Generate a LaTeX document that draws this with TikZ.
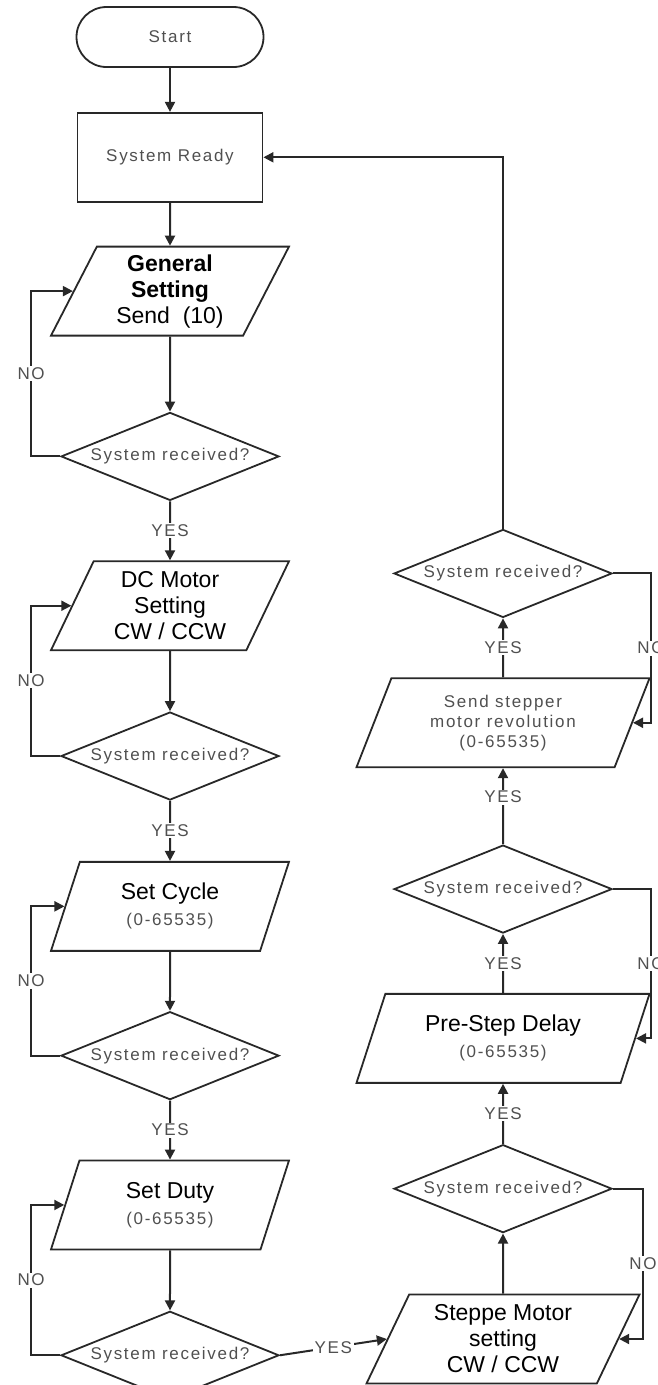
\documentclass[tikz,border=0pt]{standalone}
\usepackage{fontspec}
\setmainfont{Liberation Sans}
\newfontfamily\spacedfont[LetterSpace=10]{Liberation Sans}
\usetikzlibrary{shapes.geometric, arrows.meta, positioning}
\definecolor{linegray}{RGB}{40,40,40}
\definecolor{textgray}{RGB}{80,80,80}
\newcommand{\smalltxt}{\spacedfont\fontsize{17}{20}\selectfont}
\newcommand{\bigtxt}{\fontsize{23}{26}\selectfont}
\tikzset{
  base/.style={
    draw=linegray, line width=1.8pt,
    align=center, inner sep=0pt
  },
  terminal/.style={base, rectangle, rounded corners=30pt,
    minimum width=187pt, minimum height=60pt, font=\smalltxt, text=textgray},
  process/.style ={base, rectangle,
    minimum width=185pt, minimum height=89pt, font=\smalltxt, text=textgray},
  io/.style      ={base, trapezium, trapezium left angle=58, trapezium right angle=122,
    trapezium stretches body, minimum width=238pt, minimum height=89pt, font=\bigtxt},
  decision/.style={base, diamond, aspect=2.5,
    minimum width=218pt, minimum height=88pt, font=\smalltxt, text=textgray},
  arrow/.style={-{Triangle[length=10pt, width=10pt]}, line width=2pt, draw=linegray},
  answer/.style={fill=white, inner sep=1.5pt, font=\smalltxt, text=textgray},
}

\begin{document}
\begin{tikzpicture}[x=1pt, y=1pt]

  \useasboundingbox (0,0) rectangle (657,-1385);

  % Left column
  \node[terminal] (start) at (170,-37) {Start};
  \node[process,  below=44pt of start] (ready) {System Ready};

  \node[io,       below=43pt of ready] (gen)  {\textbf{General}\\\textbf{Setting}\\Send~~(10)};
  \node[decision, below=75pt of gen]   (d1)   {System received?};

  \node[io,       below=59pt of d1]    (dc)   {DC Motor\\Setting\\CW / CCW};
  \node[decision, below=60pt of dc]    (d2)   {System received?};

  \node[io,       below=60pt of d2]    (cyc)  {Set Cycle\\{\smalltxt\color{textgray}(0-65535)}};
  \node[decision, below=59pt of cyc]   (d3)   {System received?};

  \node[io,       below=59pt of d3]    (duty) {Set Duty\\{\smalltxt\color{textgray}(0-65535)}};
  \node[decision, below=60pt of duty]  (d4)   {System received?};

  % Right column
  \node[io, minimum width=273pt] (steppe) at (503,-1339) {Steppe Motor\\setting\\CW / CCW};
  \node[decision, above=60pt of steppe] (r1)  {System received?};

  \node[io, minimum width=293pt, above=60pt of r1] (pre) {Pre-Step Delay\\{\smalltxt\color{textgray}(0-65535)}};
  \node[decision, above=59pt of pre]    (r2)  {System received?};

  \node[io, minimum width=293pt, above=76pt of r2, font=\smalltxt, text=textgray] (send)
    {Send stepper\\motor revolution\\(0-65535)};
  \node[decision, above=59pt of send]   (r3)  {System received?};

  % Arrows
  \foreach \a/\b in {start/ready, ready/gen, gen/d1, dc/d2, cyc/d3, duty/d4, steppe/r1}{
    \draw[arrow] (\a) -- (\b);
  }
  \foreach \a/\b in {d1/dc, d2/cyc, d3/duty, r1/pre, pre/r2, send/r3}{
    \draw[arrow] (\a) -- node[answer]{YES} (\b);
  }
  \draw[arrow] (r2) -- node[answer, pos=0.62]{YES} (send);
  \draw[arrow] (d4.east) -- node[answer]{YES} (steppe.west);
  \draw[arrow] (r3.north) |- (ready.east);

  % NO loops
  \foreach \a/\b in {d1/gen, d2/dc, d3/cyc, d4/duty}{
    \draw[arrow] (\a.west) -- ++(-29pt,0) |- node[answer, pos=0.25]{NO} (\b.west);
  }
  \foreach \a/\b in {r3/send, r2/pre}{
    \draw[arrow] (\a.east) -- ++(38pt,0) |- node[answer, pos=0.25]{NO} (\b.east);
  }
  \draw[arrow] (r1.east) -- ++(30pt,0) |- node[answer, pos=0.25]{NO} (steppe.east);

\end{tikzpicture}
\end{document}
